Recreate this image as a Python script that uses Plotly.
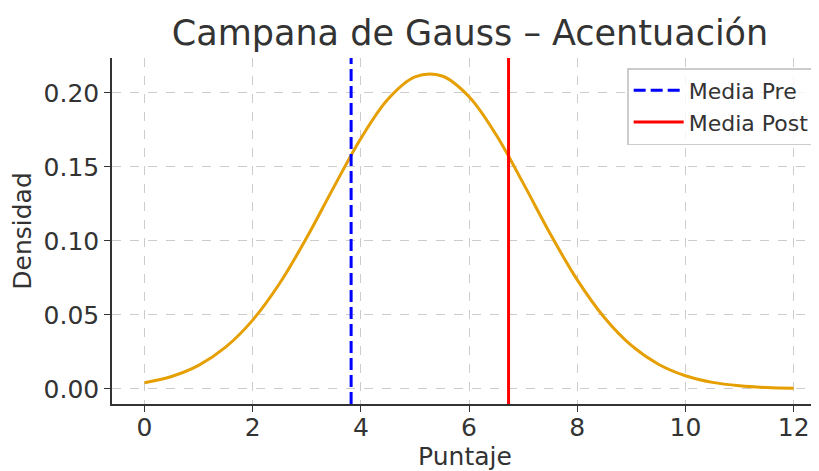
import plotly.graph_objects as go

# Puntos (puntaje, densidad)
puntaje = [0, 0.5, 1, 1.5, 2, 2.5, 3, 3.5, 4, 4.5, 5, 5.5, 6,
           6.5, 7, 7.5, 8, 8.5, 9, 9.5, 10, 10.5, 11, 11.5, 12]
densidad = [0.0041, 0.0083, 0.0158, 0.0281, 0.0464, 0.0713, 0.1022, 0.1363,
            0.1692, 0.1957, 0.2108, 0.2114, 0.1974, 0.1717, 0.1390, 0.1048,
            0.0736, 0.0482, 0.0293, 0.0166, 0.0088, 0.0043, 0.0020, 0.0008, 0.0003]

# Medias
media_pre = 3.82
media_post = 6.73

x_ticks = [0, 2, 4, 6, 8, 10, 12]
y_ticks = [0.00, 0.05, 0.10, 0.15, 0.20]

fuente = "DejaVu Sans"
gris_texto = "#333333"

# la página deja 8px de margen en el body -> se compensa
off = 8
W, H = 819 - off, 471 - off

fig = go.Figure()
fig.add_trace(go.Scatter(
    x=puntaje, y=densidad, mode="lines", line_shape="spline",
    line=dict(color="#E69F00", width=3), showlegend=False, hoverinfo="x+y"
))

# Líneas verticales de las medias (con entrada en la leyenda)
fig.add_vline(x=media_pre, line=dict(color="#0000FF", width=3, dash="12px,5px"),
              showlegend=True, name="Media Pre", layer="above")
fig.add_vline(x=media_post, line=dict(color="#FF0000", width=3),
              showlegend=True, name="Media Post", layer="above")

fig.update_layout(
    width=W, height=H,
    margin=dict(l=112 - off, r=1, t=58 - off, b=67, autoexpand=False),
    paper_bgcolor="white", plot_bgcolor="white",
    font=dict(family=fuente, color=gris_texto, size=25),
    title=dict(text="Campana de Gauss – Acentuación", x=(470 - off) / W, xanchor="center",
               y=1 - (33 - off) / H, yanchor="middle", font=dict(size=35, color=gris_texto)),
    legend=dict(x=0.996, y=0.971, xanchor="right", yanchor="top",
                bgcolor="rgba(255,255,255,0.8)", bordercolor="#cccccc", borderwidth=1.5,
                font=dict(size=22, color=gris_texto), itemwidth=50, tracegroupgap=2),
    showlegend=True,
)

# marcas del eje x dibujadas como "minor" para acercar las etiquetas al eje
fig.update_xaxes(
    range=[-0.6, 12.45], tickvals=x_ticks, ticktext=[str(v) for v in x_ticks],
    title=dict(text="Puntaje", standoff=6, font=dict(size=25)),
    showline=True, linecolor=gris_texto, linewidth=1.5, mirror=False,
    ticks="",
    minor=dict(tickvals=x_ticks, ticks="outside", ticklen=6, tickwidth=1.2,
               tickcolor=gris_texto, showgrid=False),
    showgrid=True, gridcolor="#cccccc", griddash="dash", gridwidth=1,
    zeroline=False,
)
fig.update_yaxes(
    range=[-0.0103, 0.2236], tickvals=y_ticks, ticktext=[f"{v:.2f}" for v in y_ticks],
    title=dict(text="Densidad", standoff=6, font=dict(size=25)),
    showline=True, linecolor=gris_texto, linewidth=1.5, mirror=False,
    ticks="outside", ticklen=6, tickwidth=1.2, tickcolor=gris_texto,
    showgrid=True, gridcolor="#cccccc", griddash="dash", gridwidth=1,
    zeroline=False,
)

fig.write_html("out.html")
